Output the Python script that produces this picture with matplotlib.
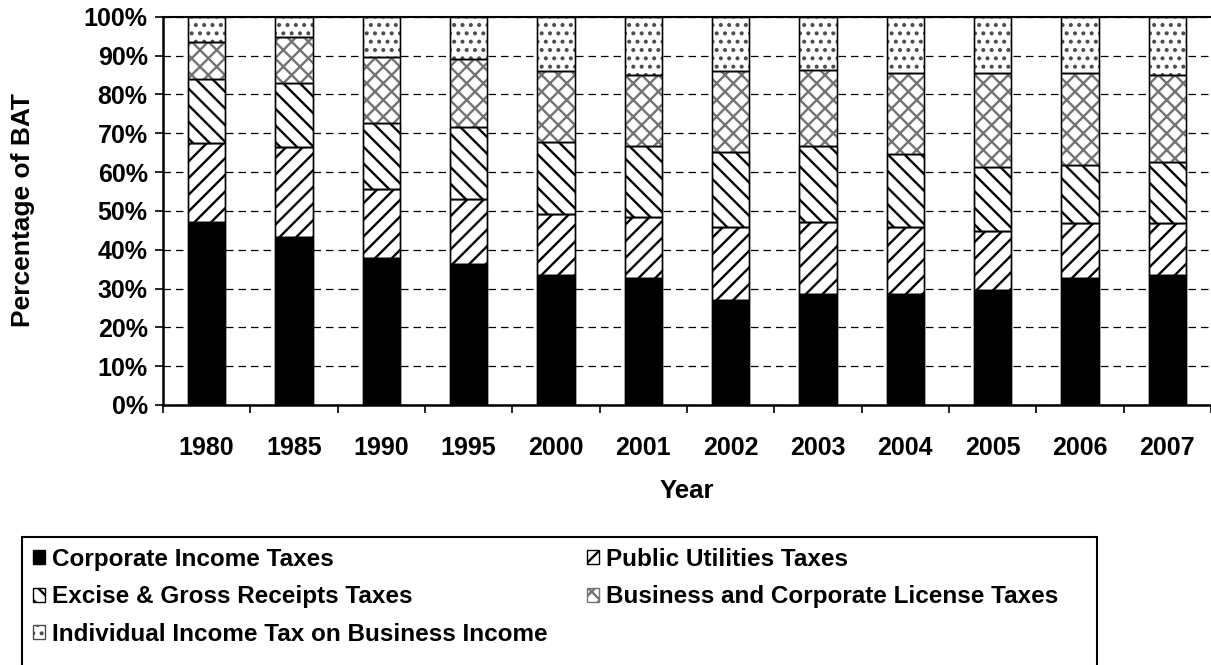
import numpy as np
import matplotlib
matplotlib.use('Agg')
from matplotlib import pyplot as plt
from matplotlib.patches import Rectangle

plt.rcParams['font.family'] = ['Liberation Sans', 'DejaVu Sans']
plt.rcParams['font.weight'] = 'bold'
plt.rcParams['hatch.linewidth'] = 1.7  # thick stripes, read at draw time

# Data (share of BAT, %)
years = ['1980', '1985', '1990', '1995', '2000', '2001', '2002', '2003',
         '2004', '2005', '2006', '2007']
corporate = [47.0, 43.3, 37.8, 36.2, 33.6, 32.6, 27.0, 28.5, 28.5, 29.6, 32.6, 33.6]
utilities = [20.4, 23.1, 17.8, 16.8, 15.7, 15.7, 18.8, 18.7, 17.3, 15.1, 14.2, 13.2]
excise = [16.5, 16.4, 16.9, 18.5, 18.5, 18.5, 19.4, 19.6, 18.9, 16.5, 15.0, 15.9]
license_ = [9.7, 11.9, 17.0, 17.5, 18.1, 18.2, 20.7, 19.6, 20.9, 24.4, 23.8, 22.3]
individual = [6.4, 5.3, 10.5, 11.0, 14.1, 15.0, 14.1, 13.6, 14.4, 14.4, 14.4, 15.0]

labels = ['Corporate Income Taxes', 'Public Utilities Taxes',
          'Excise & Gross Receipts Taxes', 'Business and Corporate License Taxes',
          'Individual Income Tax on Business Income']

fig = plt.figure(figsize=(12.11, 6.65), dpi=100)
ax = fig.add_axes([163 / 1211, 260 / 665, 1048 / 1211, 388.3 / 665])

x = np.arange(len(years))
w = 0.424
series = [corporate, utilities, excise, license_, individual]
styles = [  # (facecolor, hatch, hatch colour)
    ('black', None, 'black'),
    ('white', '//', 'black'),
    ('white', '\\\\', 'black'),
    ('white', 'xx', '0.45'),
    ('white', '..', '0.3'),
]
bottom = np.zeros(len(years))
handles = []
for vals, lab, (fc, hatch, hc) in zip(series, labels, styles):
    b = ax.bar(x, vals, w, bottom=bottom, color=fc, edgecolor=hc,
               hatch=hatch, linewidth=1.0, label=lab, zorder=3)
    # black outline on top (hatch colour follows the edge colour)
    ax.bar(x, vals, w, bottom=bottom, fill=False, edgecolor='black',
           linewidth=1.0, zorder=4)
    handles.append(b)
    bottom += np.array(vals)

ax.set_xlim(-0.5, len(years) - 0.5)
ax.set_ylim(0, 100)
ax.set_yticks(np.arange(0, 101, 10))
ax.set_yticklabels(['%d%%' % v for v in range(0, 101, 10)])
ax.set_xticks(x)
ax.set_xticklabels(years)
ax.set_xticks(np.arange(-0.5, len(years) - 0.4, 1), minor=True)
ax.tick_params(axis='x', which='major', length=0, pad=22, labelsize=18)
ax.tick_params(axis='x', which='minor', length=6, width=1.2, direction='out')
ax.tick_params(axis='y', length=6, width=1.2, pad=5, labelsize=18)

ax.yaxis.grid(True, color='black', linestyle=(0, (6, 4)), linewidth=0.9, zorder=0)
ax.set_axisbelow(True)
for s in ['left', 'bottom']:
    ax.spines[s].set_linewidth(1.8)
ax.spines['top'].set_linewidth(1.5)
ax.spines['right'].set_visible(False)

ax.set_xlabel('Year', fontsize=18.5, fontweight='bold', labelpad=14)
ax.set_ylabel('Percentage of BAT', fontsize=19, fontweight='bold')
ax.yaxis.set_label_coords(-0.122, 0.502)

# legend: column-major fill, so reorder to get row order of the original
order = [0, 2, 4, 1, 3]
leg = fig.legend([handles[i] for i in order], [labels[i] for i in order],
                 loc='upper left', bbox_to_anchor=(28 / 1211, 1 - 543 / 665),
                 ncol=2, frameon=False, fontsize=17.5, handlelength=0.5,
                 handleheight=0.5, handletextpad=0.3, columnspacing=1.6,
                 labelspacing=0.6, borderaxespad=0, borderpad=0.2)
fig.add_artist(Rectangle((22 / 1211, -0.05), (1097 - 22) / 1211, 0.05 + 128 / 665,
                         transform=fig.transFigure, fill=False,
                         edgecolor='black', linewidth=1.5))

fig.savefig('out.png', dpi=100)
